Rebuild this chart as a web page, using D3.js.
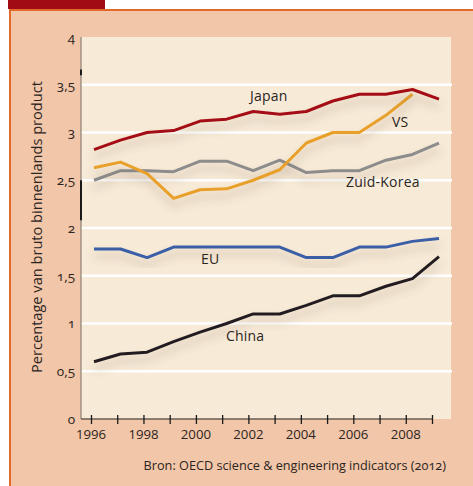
<!DOCTYPE html>
<html><head><meta charset="utf-8">
<script src="https://cdn.jsdelivr.net/npm/d3@7"></script>
<style>
html,body{margin:0;padding:0;background:#fff;}
svg{display:block;}
text{font-family:"Open Sans",sans-serif;fill:#2b2522;}
.onum{font-variant-numeric:oldstyle-nums;font-feature-settings:"onum" 1;}
</style></head>
<body>
<script>
const years = [1996,1997,1998,1999,2000,2001,2002,2003,2004,2005,2006,2007,2008,2009];
const japan = [2.82,2.92,3.00,3.02,3.12,3.14,3.22,3.19,3.22,3.33,3.40,3.40,3.45,3.35];
const vs    = [2.63,2.69,2.57,2.31,2.40,2.41,2.50,2.61,2.89,3.00,3.00,3.18,3.40,null];
const korea = [2.50,2.60,2.60,2.59,2.70,2.70,2.60,2.71,2.58,2.60,2.60,2.71,2.77,2.89];
const eu    = [1.78,1.78,1.69,1.80,1.80,1.80,1.80,1.80,1.69,1.69,1.80,1.80,1.86,1.89];
const china = [0.60,0.68,0.70,0.81,0.91,1.00,1.10,1.10,1.19,1.29,1.29,1.39,1.47,1.70];
const yTicks = [0,0.5,1,1.5,2,2.5,3,3.5,4];
const yTickLabels = ["0","0,5","1","1,5","2","2,5","3","3,5","4"];
const xTickYears = [1996,1997,1998,1999,2000,2001,2002,2003,2004,2005,2006,2007,2008,2009];
const xLabelYears = [1996,1998,2000,2002,2004,2006,2008];
const seriesNames = ["Japan","VS","Zuid-Korea","EU","China"];
const seriesColors = ["#a50c14","#e8a02c","#8c8c8c","#3a5ea6","#231f20"];
const labelPos = [[2001.88,3.38],[2007.23,3.11],[2005.5,2.48],[2000.03,1.675],[2000.97,0.87]];

const W=473,H=486;
const svg=d3.select("body").append("svg").attr("width",W).attr("height",H);
const defs=svg.append("defs");
const f=defs.append("filter").attr("id","sh").attr("x","-20%").attr("y","-50%").attr("width","140%").attr("height","200%");
f.append("feGaussianBlur").attr("in","SourceAlpha").attr("stdDeviation",4.5).attr("result","b");
f.append("feOffset").attr("in","b").attr("dy",7).attr("result","o");
f.append("feFlood").attr("flood-color","#7a6450").attr("flood-opacity",0.35).attr("result","c");
f.append("feComposite").attr("in","c").attr("in2","o").attr("operator","in").attr("result","s");
const m=f.append("feMerge");
m.append("feMergeNode").attr("in","s");
m.append("feMergeNode").attr("in","SourceGraphic");

// frame
svg.append("rect").attr("x",8).attr("y",0).attr("width",97).attr("height",9).attr("fill","#a00b14");
svg.append("rect").attr("x",9).attr("y",9).attr("width",W-9).attr("height",H-9).attr("fill","#e3692a");
svg.append("rect").attr("x",11).attr("y",11).attr("width",W-11).attr("height",H-11).attr("fill","#f2c6a8");

const y=d3.scaleLinear().domain([0,4]).range([419,37]);
const xData=d3.scaleLinear().domain([1996,2009]).range([94,439]);
const xAxisS=d3.scaleLinear().domain([1996,2009]).range([91,432]);

// plot bg
svg.append("rect").attr("x",81).attr("y",37).attr("width",370).attr("height",382).attr("fill","#f7ead7");

// gridlines
svg.append("g").selectAll("line").data(yTicks.filter(d=>d>0&&d<4)).join("line")
  .attr("x1",81).attr("x2",452).attr("y1",d=>y(d)).attr("y2",d=>y(d))
  .attr("stroke","#fff").attr("stroke-width",2.5);

// y axis
svg.append("line").attr("x1",81).attr("x2",81).attr("y1",37).attr("y2",419).attr("stroke","#8a8078").attr("stroke-width",1.2);
svg.append("line").attr("x1",81).attr("x2",81).attr("y1",y(3.66)).attr("y2",y(3.6)).attr("stroke","#1a1a1a").attr("stroke-width",2);
svg.append("line").attr("x1",81).attr("x2",81).attr("y1",y(2.5)).attr("y2",y(2.08)).attr("stroke","#1a1a1a").attr("stroke-width",2);

const yl=svg.append("g");
yl.selectAll("text").data(yTicks).join("text").attr("class","onum")
  .attr("x",75).attr("y",d=>y(d)).attr("dy","0.36em").attr("text-anchor","end")
  .style("font-size","13.5px").text((d,i)=>yTickLabels[i]);

// x axis
const xa=svg.append("g").attr("transform","translate(0,419)")
  .call(d3.axisBottom(xAxisS).tickValues(xTickYears).tickSize(5).tickSizeOuter(0).tickFormat(""));
xa.select(".domain").attr("d","M81,0H432").attr("stroke","#6a5d55").attr("stroke-width",1.3);
xa.selectAll(".tick line").attr("y1",-4).attr("y2",5).attr("stroke","#1a1a1a").attr("stroke-width",1.3);
svg.append("g").selectAll("text").data(xLabelYears).join("text")
  .attr("x",d=>xAxisS(d)).attr("y",434).attr("dy","0.36em").attr("text-anchor","middle")
  .style("font-size","13.2px").text(d=>d);

// lines
const allSeries=[japan,vs,korea,eu,china];
const line=d3.line().defined(d=>d!=null).x((d,i)=>xData(years[i])).y(d=>y(d));
const lg=svg.append("g");
[4,3,2,1,0].forEach(k=>{
  lg.append("path").datum(allSeries[k]).attr("d",line).attr("fill","none")
    .attr("stroke",seriesColors[k]).attr("stroke-width",3).attr("stroke-linejoin","round")
    .attr("filter","url(#sh)");
});

// labels
svg.append("g").selectAll("text").data(seriesNames).join("text")
  .attr("x",(d,i)=>xData(labelPos[i][0])).attr("y",(d,i)=>y(labelPos[i][1])).attr("dy","0.36em")
  .style("font-size","14px").style("letter-spacing","0.2px").text(d=>d);

// y title
svg.append("text").attr("transform","translate(37,227) rotate(-90)").attr("text-anchor","middle")
  .attr("dy","0.36em").style("font-size","14.6px").text("Percentage van bruto binnenlands product");

// source
svg.append("text").attr("class","onum").attr("x",446).attr("y",465).attr("dy","0.36em").attr("text-anchor","end")
  .style("font-size","12.7px").text("Bron: OECD science & engineering indicators (2012)");
</script>
</body></html>
